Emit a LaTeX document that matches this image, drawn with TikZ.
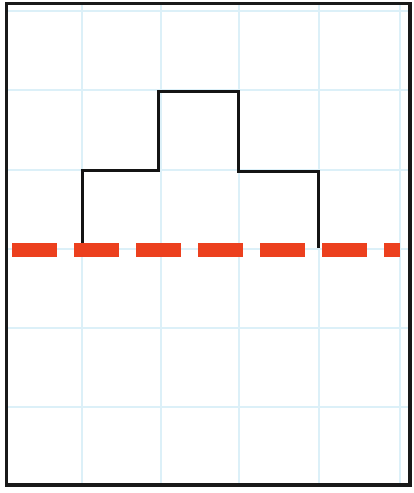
\documentclass[tikz,border=0pt]{standalone}
\usepackage{tikz}
\definecolor{gridblue}{RGB}{220,240,248}
\definecolor{dashred}{RGB}{236,64,30}
\tikzset{
  gridline/.style={draw=gridblue, line width=1.3pt},
  outline/.style={draw=black!92, line width=3pt, line join=miter},
  frame/.style={draw=black!90, line width=3.5pt},
  redline/.style={draw=dashred, line width=14pt, dash pattern=on 45pt off 17pt}
}
\begin{document}
\begin{tikzpicture}[x=1pt,y=-1pt]
\useasboundingbox (0,0) rectangle (413,493);
\fill[white] (0,0) rectangle (413,493);
% grid
\foreach \gx in {82,161,239,319,400} \draw[gridline] (\gx,5) -- (\gx,484);
\foreach \gy in {11,90,170,249,328,407} \draw[gridline] (8,\gy) -- (409,\gy);
% step outline
\draw[outline] (82,249) -- (82,170) -- (158,170) -- (158,91) -- (238,91) -- (238,171) -- (318,171) -- (318,248);
% red dashed line
\draw[redline] (12,250) -- (400,250);
% frame
\draw[frame] (6.5,3.5) rectangle (410,485);
\end{tikzpicture}
\end{document}
